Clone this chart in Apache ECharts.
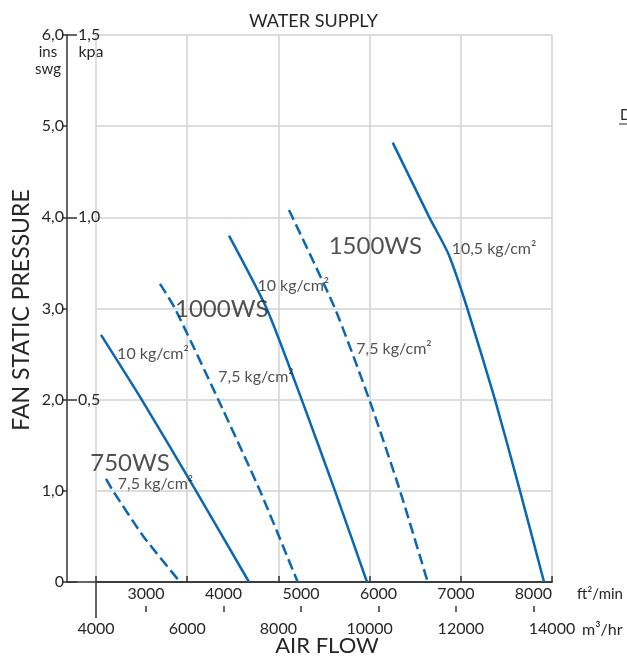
<!DOCTYPE html>
<html><head><meta charset="utf-8">
<script src="https://cdn.jsdelivr.net/npm/echarts@6/dist/echarts.min.js"></script>
<style>html,body{margin:0;padding:0;background:#fff}#c{width:627px;height:661px}</style>
</head><body><div id="c"></div>
<script>
// ---- data ----
const pressureTicksIn = [0, 1, 2, 3, 4, 5, 6];
const pressureTicksKpa = [0, 0.5, 1.0, 1.5];
const flowTicksM3h = [4000, 6000, 8000, 10000, 12000, 14000];
const flowTicksCfm = [3000, 4000, 5000, 6000, 7000, 8000];
const M3H_PER_CFM = 1.699;

// curves: [air flow m3/hr, static pressure in wg]
const ws750_75 = [[4219, 1.13], [4373, 1.0], [5040, 0.5], [5842, 0]];
const ws750_10 = [[4110, 2.71], [5002, 2.0], [6193, 1.0], [7355, 0]];
const ws1000_75 = [[5404, 3.27], [5732, 3.0], [6682, 2.0], [7597, 1.0], [8423, 0]];
const ws1000_10 = [[6917, 3.80], [7743, 3.0], [8511, 2.0], [9241, 1.0], [9943, 0]];
const ws1500_75 = [[8232, 4.08], [9241, 3.0], [9994, 2.0], [10667, 1.0], [11274, 0]];
const ws1500_105 = [[10507, 4.82], [11310, 4.0], [11727, 3.60], [12143, 3.0], [12750, 2.0], [13298, 1.0], [13825, 0]];

// text annotations: [air flow, pressure, text]
const modelLabels = [[4745, 1.30, '750WS'], [6757, 2.99, '1000WS'], [10126, 3.68, '1500WS']];
const pressureLabels = [
  [5305, 1.075, '7,5 kg/cm²'], [5250, 2.50, '10 kg/cm²'],
  [7509, 2.25, '7,5 kg/cm²'], [8327, 3.25, '10 kg/cm²'],
  [10535, 2.56, '7,5 kg/cm²'], [12728, 3.65, '10,5 kg/cm²']
];

// ---- chart ----
const FONT = 'Lato';
const TXT = '#262626';
const AX = '#333';
const BLUE = '#0a67b3';
const GRIDC = '#d2d2d2';
const fmtIn = v => v === 0 ? '0' : v.toFixed(1).replace('.', ',');
const fmtKpa = v => v === 0 ? '' : v.toFixed(1).replace('.', ',');
const fmtInt = v => String(Math.round(v));

function curve(data, dashed) {
  return {
    type: 'line', xAxisIndex: 0, yAxisIndex: 0, data: data, smooth: 0.2,
    showSymbol: false, symbol: 'none', clip: false, silent: true,
    lineStyle: { color: BLUE, width: 2.5, type: dashed ? [11, 5] : 'solid', cap: 'butt', join: 'round' },
    z: 3
  };
}
function annot(arr, size) {
  return {
    type: 'scatter', xAxisIndex: 0, yAxisIndex: 0, symbolSize: 0, clip: false, silent: true,
    data: arr.map(a => ({ value: [a[0], a[1]], name: a[2] })),
    label: { show: true, position: 'inside', formatter: p => p.name, color: TXT, fontFamily: FONT, fontSize: size },
    z: 5
  };
}

const chart = echarts.init(document.getElementById('c'), null, { renderer: 'canvas' });
chart.setOption({
  backgroundColor: '#fff',
  animation: false,
  title: { text: 'WATER SUPPLY', left: 'center', top: 7, textStyle: { fontFamily: FONT, fontSize: 18, fontWeight: 'normal', color: TXT } },
  grid: [
    { left: 96, right: 75, top: 35, bottom: 79 },
    { left: 67, right: 75, top: 35, bottom: 79 }
  ],
  xAxis: [
    { // m3/hr
      type: 'value', gridIndex: 0, min: flowTicksM3h[0], max: flowTicksM3h[flowTicksM3h.length - 1], interval: 2000,
      position: 'bottom', offset: 30,
      axisLine: { show: true, lineStyle: { color: AX, width: 1.5 } },
      axisTick: { show: true, inside: true, length: 6, lineStyle: { color: AX, width: 1.5 } },
      axisLabel: { show: true, margin: 9, formatter: fmtInt, color: TXT, fontFamily: FONT, fontSize: 16 },
      splitLine: { show: true, lineStyle: { color: GRIDC, width: 1.5 } }
    },
    { // cfm
      type: 'value', gridIndex: 0, min: flowTicksM3h[0] / M3H_PER_CFM, max: flowTicksM3h[flowTicksM3h.length - 1] / M3H_PER_CFM,
      position: 'bottom', offset: 30,
      axisLine: { show: false },
      axisTick: { show: true, inside: true, length: 6, customValues: flowTicksCfm, lineStyle: { color: AX, width: 1.5 } },
      axisLabel: { show: true, inside: true, margin: 10, customValues: flowTicksCfm, formatter: fmtInt, color: TXT, fontFamily: FONT, fontSize: 16 },
      splitLine: { show: false }
    },
    { // long tick at start of flow scale
      type: 'value', gridIndex: 0, min: flowTicksM3h[0], max: flowTicksM3h[flowTicksM3h.length - 1],
      position: 'bottom', offset: 0,
      axisLine: { show: false },
      axisTick: { show: true, length: 36, customValues: [flowTicksM3h[0]], lineStyle: { color: AX, width: 1.5 } },
      axisLabel: { show: false }, splitLine: { show: false }
    },
    { // frame axis line
      type: 'value', gridIndex: 1, min: 0, max: 1, position: 'bottom',
      axisLine: { show: true, lineStyle: { color: AX, width: 1.5 } },
      axisTick: { show: false }, axisLabel: { show: false }, splitLine: { show: false }
    }
  ],
  yAxis: [
    {
      type: 'value', gridIndex: 0, min: pressureTicksIn[0], max: pressureTicksIn[pressureTicksIn.length - 1], interval: 1,
      axisLine: { show: false }, axisTick: { show: false }, axisLabel: { show: false },
      splitLine: { show: true, lineStyle: { color: GRIDC, width: 1.5 } }
    },
    {
      type: 'value', gridIndex: 1, position: 'left', min: pressureTicksIn[0], max: pressureTicksIn[pressureTicksIn.length - 1], interval: 1,
      axisLine: { show: true, lineStyle: { color: AX, width: 1.5 } },
      axisTick: { show: true, length: 5, lineStyle: { color: AX, width: 1.5 } },
      axisLabel: { show: true, margin: 3, formatter: fmtIn, color: TXT, fontFamily: FONT, fontSize: 16 },
      splitLine: { show: false }
    },
    {
      type: 'value', gridIndex: 1, position: 'left', min: pressureTicksKpa[0], max: pressureTicksKpa[pressureTicksKpa.length - 1], interval: 0.5,
      axisLine: { show: false },
      axisTick: { show: true, inside: true, length: 10, lineStyle: { color: AX, width: 1.5 } },
      axisLabel: { show: true, inside: true, margin: 11, formatter: fmtKpa, color: TXT, fontFamily: FONT, fontSize: 16 },
      splitLine: { show: false }
    }
  ],
  graphic: [
    { type: 'text', x: 48, y: 52, style: { text: 'ins', textAlign: 'center', textVerticalAlign: 'middle', fill: TXT, font: '15px ' + FONT } },
    { type: 'text', x: 48, y: 69, style: { text: 'swg', textAlign: 'center', textVerticalAlign: 'middle', fill: TXT, font: '15px ' + FONT } },
    { type: 'text', x: 91, y: 52, style: { text: 'kpa', textAlign: 'center', textVerticalAlign: 'middle', fill: TXT, font: '16px ' + FONT } },
    { type: 'text', x: 22, y: 310, rotation: Math.PI / 2, style: { text: 'FAN STATIC PRESSURE', textAlign: 'center', textVerticalAlign: 'middle', fill: TXT, font: '23px ' + FONT } },
    { type: 'text', x: 327, y: 646, style: { text: 'AIR FLOW', textAlign: 'center', textVerticalAlign: 'middle', fill: TXT, font: '22px ' + FONT } },
    { type: 'text', x: 577, y: 594, style: { text: 'ft²/min', textAlign: 'left', textVerticalAlign: 'middle', fill: TXT, font: '15px ' + FONT } },
    { type: 'text', x: 582, y: 630, style: { text: 'm³/hr', textAlign: 'left', textVerticalAlign: 'middle', fill: TXT, font: '16px ' + FONT } },
    { type: 'text', x: 620, y: 115, style: { text: 'D', textAlign: 'left', textVerticalAlign: 'middle', fill: TXT, font: '15px ' + FONT } },
    { type: 'line', shape: { x1: 619, y1: 124, x2: 627, y2: 124 }, style: { stroke: TXT, lineWidth: 1 } }
  ],
  series: [
    curve(ws750_75, true), curve(ws750_10, false),
    curve(ws1000_75, true), curve(ws1000_10, false),
    curve(ws1500_75, true), curve(ws1500_105, false),
    annot(modelLabels, 24), annot(pressureLabels, 16)
  ]
});
</script></body></html>
